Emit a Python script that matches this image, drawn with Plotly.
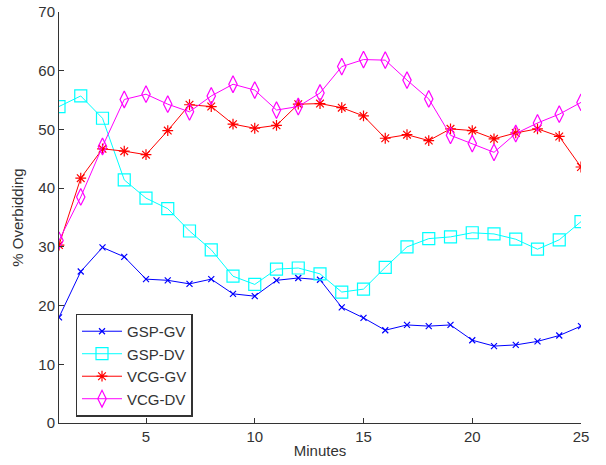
import plotly.graph_objects as go

minutes = list(range(1, 26))
gsp_gv = [18.0, 25.8, 29.9, 28.3, 24.5, 24.3, 23.7, 24.5, 22.0, 21.6, 24.3, 24.7, 24.4,
          19.7, 17.9, 15.8, 16.7, 16.5, 16.7, 14.1, 13.1, 13.3, 13.9, 14.9, 16.5]
gsp_dv = [53.9, 55.7, 51.9, 41.4, 38.3, 36.5, 32.7, 29.5, 25.0, 23.6, 26.2, 26.4, 25.4,
          22.3, 22.8, 26.5, 30.0, 31.4, 31.7, 32.4, 32.2, 31.3, 29.6, 31.2, 34.3]
vcg_gv = [30.3, 41.7, 46.7, 46.3, 45.7, 49.8, 54.2, 53.9, 50.9, 50.2, 50.7, 54.3, 54.4,
          53.7, 52.3, 48.5, 49.1, 48.1, 50.1, 49.8, 48.4, 49.4, 50.1, 48.8, 43.6]
vcg_dv = [31.1, 38.5, 47.1, 55.1, 56.0, 54.3, 53.0, 55.7, 57.7, 56.7, 53.3, 53.9, 56.2,
          60.7, 61.9, 61.8, 58.4, 55.2, 49.0, 47.6, 46.1, 49.3, 51.1, 52.6, 54.6]

series = [
    ("GSP-GV", gsp_gv, "#0000ff", "x-thin-open", 6),
    ("GSP-DV", gsp_dv, "#00ffff", "square-open", 12),
    ("VCG-GV", vcg_gv, "#ff0000", "asterisk-open", 9),
    ("VCG-DV", vcg_dv, "#ff00ff", "diamond-tall-open", 12),
]

fig = go.Figure()
for name, vals, color, sym, size in series:
    fig.add_trace(go.Scatter(
        x=minutes, y=vals, name=name, mode="lines+markers",
        line=dict(color=color, width=1),
        marker=dict(symbol=sym, size=size, color=color, line=dict(color=color, width=1.2)),
    ))

axis_font = dict(family="Liberation Sans, Arial, sans-serif", size=15, color="#333333")
fig.update_layout(
    width=606, height=465, autosize=False,
    margin=dict(l=59, r=25, t=12, b=42, pad=0, autoexpand=False),
    paper_bgcolor="white", plot_bgcolor="white",
    font=axis_font,
    showlegend=True,
    legend=dict(
        x=0.032, y=0.266, xanchor="left", yanchor="top",
        bgcolor="white", bordercolor="#333333", borderwidth=1.3,
        font=dict(family="Liberation Sans, Arial, sans-serif", size=15, color="#333333"),
        tracegroupgap=0, itemwidth=40, entrywidth=129,
    ),
    xaxis=dict(
        range=[1, 25], tickvals=[5, 10, 15, 20, 25], ticks="inside", ticklen=5,
        tickcolor="#333333", showline=True, linecolor="#333333", linewidth=1,
        showgrid=False, zeroline=False, mirror=False, automargin=False,
        ticklabeloverflow="allow",
        title=dict(text="Minutes", standoff=1, font=axis_font),
        tickfont=axis_font,
    ),
    yaxis=dict(
        range=[0, 70], tickvals=[0, 10, 20, 30, 40, 50, 60, 70], ticks="inside", ticklen=5,
        tickcolor="#333333", showline=True, linecolor="#333333", linewidth=1,
        showgrid=False, zeroline=False, mirror=False, automargin=False,
        ticklabeloverflow="allow",
        title=dict(text="% Overbidding", standoff=11, font=axis_font),
        tickfont=axis_font,
    ),
)

fig.write_html("out.html", config={"displayModeBar": False},
               post_script="document.body.style.margin='0';")
